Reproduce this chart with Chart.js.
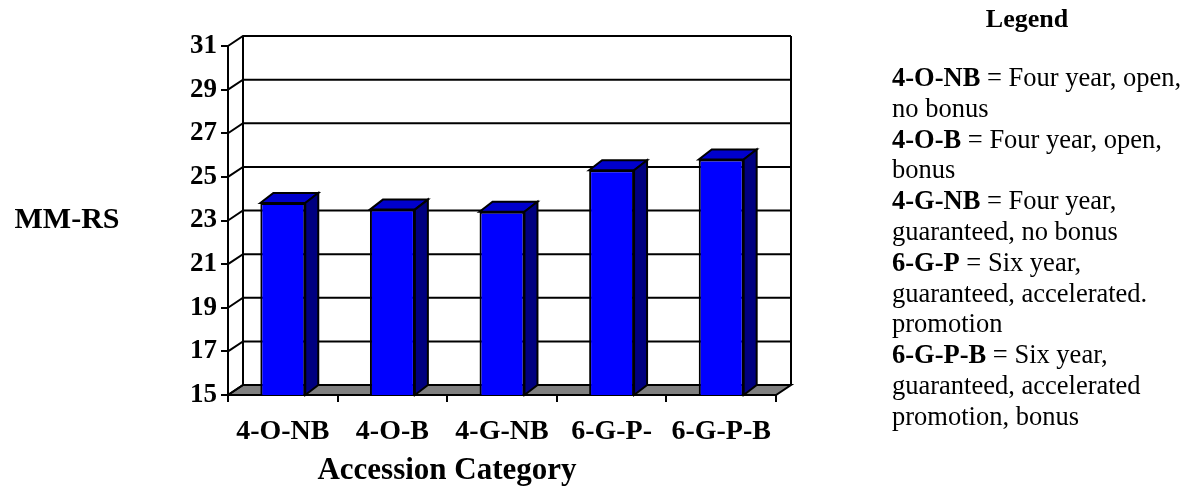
<!DOCTYPE html>
<html>
<head>
<meta charset="utf-8">
<script src="https://cdn.jsdelivr.net/npm/chart.js@4.4.1/dist/chart.umd.min.js"></script>
<style>
  html, body { margin: 0; padding: 0; background: #fff; }
  #wrap { position: relative; width: 1199px; height: 493px; }
</style>
</head>
<body>
<div id="wrap"><canvas id="chart"></canvas></div>
<script>
// Accession categories and mean MM-RS scores
const categories = ['4-O-NB', '4-O-B', '4-G-NB', '6-G-P-', '6-G-P-B'];
const mmrsValues = [23.8, 23.5, 23.4, 25.3, 25.8];
const yTickValues = [15, 17, 19, 21, 23, 25, 27, 29, 31];

const yAxisTitle = 'MM-RS';
const xAxisTitle = 'Accession Category';

// Legend text: [bold code, plain description]
const legendHeading = 'Legend';
const legendLines = [
  ['4-O-NB', ' = Four year, open,'],
  ['', 'no bonus'],
  ['4-O-B', ' = Four year, open,'],
  ['', 'bonus'],
  ['4-G-NB', ' = Four year,'],
  ['', 'guaranteed, no bonus'],
  ['6-G-P', ' = Six year,'],
  ['', 'guaranteed, accelerated.'],
  ['', 'promotion'],
  ['6-G-P-B', ' = Six year,'],
  ['', 'guaranteed, accelerated'],
  ['', 'promotion, bonus']
];

const SERIF = '"Liberation Serif", "Times New Roman", Times, serif';
Chart.defaults.font.family = SERIF;
Chart.defaults.color = '#000';

// depth offsets of the pseudo-3D box and of the columns
const WALL_DX = 15, WALL_DY = -10;
const BAR_DX = 13, BAR_DY = -10;

function poly(ctx, pts, fill) {
  ctx.beginPath();
  ctx.moveTo(pts[0][0], pts[0][1]);
  for (let i = 1; i < pts.length; i++) ctx.lineTo(pts[i][0], pts[i][1]);
  ctx.closePath();
  if (fill) { ctx.fillStyle = fill; ctx.fill(); }
  ctx.stroke();
}

const box3d = {
  id: 'box3d',
  beforeDatasetsDraw(chart) {
    const { ctx, chartArea: { left, right, top, bottom }, scales: { y } } = chart;
    ctx.save();
    ctx.strokeStyle = '#000';
    ctx.lineWidth = 2;
    ctx.lineJoin = 'miter';
    // back wall and side wall
    ctx.fillStyle = '#fff';
    ctx.fillRect(left + WALL_DX, top + WALL_DY, right - left, bottom - top);
    // floor
    poly(ctx, [[left, bottom], [right, bottom], [right + WALL_DX, bottom + WALL_DY], [left + WALL_DX, bottom + WALL_DY]], '#808080');
    // gridlines on the back wall and the side wall
    y.ticks.forEach(t => {
      const py = y.getPixelForValue(t.value);
      ctx.beginPath();
      ctx.moveTo(left, py);
      ctx.lineTo(left + WALL_DX, py + WALL_DY);
      ctx.lineTo(right + WALL_DX, py + WALL_DY);
      ctx.stroke();
    });
    // wall edges
    ctx.beginPath();
    ctx.moveTo(left + WALL_DX, bottom + WALL_DY);
    ctx.lineTo(left + WALL_DX, top + WALL_DY);
    ctx.moveTo(right + WALL_DX, bottom + WALL_DY);
    ctx.lineTo(right + WALL_DX, top + WALL_DY);
    ctx.stroke();
    ctx.restore();
  },
  afterDatasetsDraw(chart) {
    const { ctx, scales: { y: ys } } = chart;
    const meta = chart.getDatasetMeta(0);
    const floorY = ys.getPixelForValue(ys.min);
    ctx.save();
    ctx.strokeStyle = '#000';
    ctx.lineWidth = 2;
    ctx.lineJoin = 'miter';
    meta.data.forEach(el => {
      const { x, y, width } = el.getProps(['x', 'y', 'width'], true);
      const l = x - width / 2, r = x + width / 2;
      // top face
      poly(ctx, [[l, y], [l + BAR_DX, y + BAR_DY], [r + BAR_DX, y + BAR_DY], [r, y]], '#0000CC');
      // right side face
      poly(ctx, [[r, y], [r + BAR_DX, y + BAR_DY], [r + BAR_DX, floorY + BAR_DY], [r, floorY]], '#000080');
    });
    ctx.restore();
  },
  afterDraw(chart) {
    const { ctx, chartArea } = chart;
    ctx.save();
    ctx.fillStyle = '#000';
    // axis titles
    ctx.textAlign = 'center';
    ctx.textBaseline = 'middle';
    ctx.font = 'bold 30px ' + SERIF;
    ctx.fillText(yAxisTitle, 67, (chartArea.top + chartArea.bottom) / 2);
    ctx.font = 'bold 31px ' + SERIF;
    ctx.fillText(xAxisTitle, 447, 471);
    // legend
    ctx.textBaseline = 'alphabetic';
    ctx.font = 'bold 26px ' + SERIF;
    ctx.fillText(legendHeading, 1027, 27);
    ctx.textAlign = 'left';
    const lx = 892, ly = 86, lh = 30.8;
    legendLines.forEach((line, i) => {
      let xx = lx;
      const yy = ly + i * lh;
      if (line[0]) {
        ctx.font = 'bold 26.5px ' + SERIF;
        ctx.fillText(line[0], xx, yy);
        xx += ctx.measureText(line[0]).width;
      }
      ctx.font = '26.5px ' + SERIF;
      ctx.fillText(line[1], xx, yy);
    });
    ctx.restore();
  }
};

new Chart(document.getElementById('chart'), {
  type: 'bar',
  data: {
    labels: categories,
    datasets: [{
      data: mmrsValues,
      backgroundColor: '#0000FF',
      borderColor: '#000',
      borderWidth: 2,
      borderSkipped: false,
      barPercentage: 0.41,
      categoryPercentage: 1.0
    }]
  },
  options: {
    responsive: true,
    maintainAspectRatio: false,
    animation: false,
    devicePixelRatio: 1,
    layout: { padding: { top: 46, right: 423, bottom: 0, left: 0 } },
    plugins: { legend: { display: false }, tooltip: { enabled: false } },
    scales: {
      x: {
        type: 'category',
        offset: true,
        grid: { offset: true, drawOnChartArea: false, drawTicks: true, tickLength: 7, color: '#000', lineWidth: 2 },
        border: { display: true, color: '#000', width: 2 },
        ticks: { font: { size: 28, weight: 'bold' }, color: '#000', padding: 13, maxRotation: 0, autoSkip: false },
        afterFit(s) { s.height = 98; }
      },
      y: {
        min: 15,
        max: 31,
        afterBuildTicks(s) { s.ticks = yTickValues.map(v => ({ value: v })); },
        grid: { drawOnChartArea: false, drawTicks: true, tickLength: 7, color: '#000', lineWidth: 2 },
        border: { display: true, color: '#000', width: 2 },
        ticks: { font: { size: 27, weight: 'bold' }, color: '#000', padding: 4 },
        afterFit(s) { s.width = 228; }
      }
    }
  },
  plugins: [box3d]
});
</script>
</body>
</html>
